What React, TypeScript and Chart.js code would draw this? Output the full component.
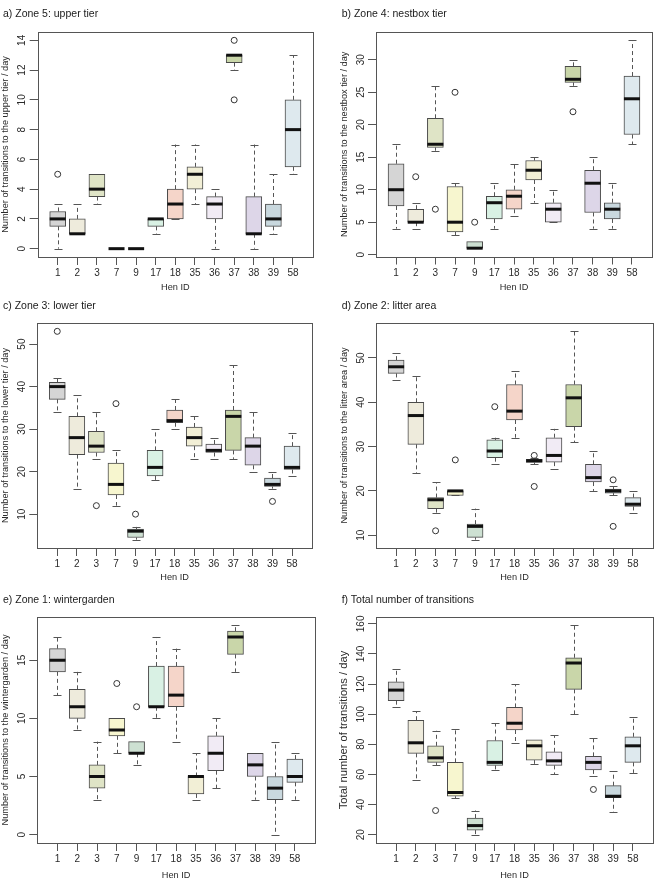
import React, { useEffect, useRef } from 'react';
import { Chart, registerables } from 'chart.js';

Chart.register(...registerables);
Chart.defaults.font.family = '"Liberation Sans", Arial, Helvetica, sans-serif';

// ---------- data ----------
const henIds = ['1', '2', '3', '7', '9', '17', '18', '35', '36', '37', '38', '39', '58'];
const boxColors = [
  '#d5d5d5', '#eeebdc', '#dfe4c6', '#f7f6cf', '#cde0d2', '#d9f1e4', '#f5d5c9',
  '#f2efd6', '#f1ebf5', '#c9d6a9', '#ddd6e8', '#c9d8de', '#dee9ee',
];

// each entry: [lower whisker, Q1, median, Q3, upper whisker]
const upperTierStats = [
  [0, 1.5, 2, 2.5, 3], [1, 1, 1, 2, 3], [3, 3.5, 4, 5, 5], [0, 0, 0, 0, 0], [0, 0, 0, 0, 0],
  [1, 1.5, 2, 2, 2], [2, 2, 3, 4, 7], [3, 4, 5, 5.5, 7], [0, 2, 3, 3.5, 4], [12, 12.5, 13, 13, 13],
  [0, 1, 1, 3.5, 7], [1, 1.5, 2, 3, 5], [5, 5.5, 8, 10, 13],
];
const upperTierOutliers = [[5], [], [], [], [], [], [], [], [], [14, 10], [], [], []];
const upperTierTicks = [0, 2, 4, 6, 8, 10, 12, 14];

const nestboxStats = [
  [4, 7.5, 10, 14, 17], [4, 5, 5, 7, 8], [16, 16.5, 17, 21, 26], [3, 3.5, 5, 10.5, 11], [1, 1, 1, 2, 2],
  [4, 5.5, 8, 9, 11], [6, 7, 9, 10, 14], [8, 11.5, 13, 14.5, 15], [5, 5, 7, 8, 10], [26, 26.5, 27, 29, 30],
  [4, 6.5, 11, 13, 15], [4, 5.5, 7, 8, 11], [17, 18.5, 24, 27.5, 33],
];
const nestboxOutliers = [[], [12], [7], [25], [5], [], [], [], [], [22], [], [], []];
const nestboxTicks = [0, 5, 10, 15, 20, 25, 30];

const lowerTierStats = [
  [34, 37, 40, 41, 42], [16, 24, 28, 33, 38], [23, 24.5, 26, 29.5, 34], [12, 14.5, 17, 22, 25], [4, 4.5, 6, 6.5, 7],
  [18, 19, 21, 25, 30], [30, 31.5, 32, 34.5, 37], [23, 26, 28, 30.5, 33], [23, 24.5, 25, 26.5, 28], [23, 25, 33, 34.5, 45],
  [20, 21.5, 26, 28, 34], [16, 16.5, 17, 18.5, 20], [19, 20.5, 21, 26, 29],
];
const lowerTierOutliers = [[53], [], [12], [36], [10], [], [], [], [], [], [], [13], []];
const lowerTierTicks = [10, 20, 30, 40, 50];

const litterStats = [
  [45, 46.5, 48, 49.5, 51], [24, 30.5, 37, 40, 46], [15, 16, 18, 18.5, 22], [19, 19, 20, 20, 20], [9, 9.5, 12, 12.5, 16],
  [26, 27.5, 29, 31.5, 32], [32, 36, 38, 44, 47], [26, 26.4, 26.8, 27.1, 27.5], [25, 26.5, 28, 32, 34], [31, 34.5, 41, 44, 56],
  [20, 22, 23, 26, 29], [19, 19.5, 20, 20.4, 21], [15, 16.5, 17, 18.5, 20],
];
const litterOutliers = [[], [], [11], [27], [], [39], [], [28, 21], [], [], [], [22.5, 12], []];
const litterTicks = [10, 20, 30, 40, 50];

const wintergardenStats = [
  [12, 14, 15, 16, 17], [9, 10, 11, 12.5, 14], [3, 4, 5, 6, 8], [7, 8.5, 9, 10, 10], [6, 7, 7, 8, 8],
  [10, 11, 11, 14.5, 17], [8, 11, 12, 14.5, 16], [3, 3.5, 5, 5, 7], [4, 5.5, 7, 8.5, 10], [14, 15.5, 17, 17.5, 18],
  [3, 5, 6, 7, 7], [0, 3, 4, 5, 8], [3, 4.5, 5, 6.5, 7],
];
const wintergardenOutliers = [[], [], [], [13], [11], [], [], [], [], [], [], [], []];
const wintergardenTicks = [0, 5, 10, 15];

const totalStats = [
  [105, 109, 116, 121.5, 130], [56, 74, 81, 96, 102], [66, 68, 71, 79, 89], [44, 45.5, 48, 68, 90], [20, 23, 26, 31, 36],
  [63, 66, 68, 82.5, 94], [81, 89.5, 94, 104.5, 120], [67, 69.5, 79, 83, 83], [60, 66, 69, 75, 86], [100, 116.5, 134, 137.5, 159],
  [59, 63, 68, 72, 84], [35, 44.5, 45.5, 52.5, 62], [61, 68, 79, 85, 98],
];
const totalOutliers = [[], [], [36], [], [], [], [], [], [], [], [50], [], []];
const totalTicks = [20, 40, 60, 80, 100, 120, 140, 160];

// ---------- panels ----------
type Panel = {
  title: string;
  yTitle: string;
  yTitleSize: number;
  stats: number[][];
  outliers: number[][];
  ticks: number[];
  left: number; top: number; height: number;
  titleX: number; titleY: number;
  L: number; R: number; T: number; B: number; henY: number;
};

const panels: Panel[] = [
  { title: 'a) Zone 5: upper tier', yTitle: 'Number of transitions to the upper tier / day', yTitleSize: 9.2, stats: upperTierStats, outliers: upperTierOutliers, ticks: upperTierTicks,
    left: 0, top: 0, height: 296, titleX: 3, titleY: 13, L: 37.7, R: 313, T: 32, B: 257, henY: 287 },
  { title: 'b) Zone 4: nestbox tier', yTitle: 'Number of transitions to the nestbox tier / day', yTitleSize: 9.2, stats: nestboxStats, outliers: nestboxOutliers, ticks: nestboxTicks,
    left: 330, top: 0, height: 296, titleX: 11.7, titleY: 13, L: 46, R: 322, T: 32, B: 256.5, henY: 287 },
  { title: 'c) Zone 3: lower tier', yTitle: 'Number of transitions to the lower tier / day', yTitleSize: 9.2, stats: lowerTierStats, outliers: lowerTierOutliers, ticks: lowerTierTicks,
    left: 0, top: 290, height: 296, titleX: 3, titleY: 15, L: 37.3, R: 312, T: 33, B: 258, henY: 287 },
  { title: 'd) Zone 2: litter area', yTitle: 'Number of transitions to the litter area / day', yTitleSize: 9.2, stats: litterStats, outliers: litterOutliers, ticks: litterTicks,
    left: 330, top: 290, height: 296, titleX: 11.7, titleY: 15, L: 46, R: 323, T: 33, B: 258, henY: 287 },
  { title: 'e) Zone 1: wintergarden', yTitle: 'Number of transitions to the wintergarden / day', yTitleSize: 9.2, stats: wintergardenStats, outliers: wintergardenOutliers, ticks: wintergardenTicks,
    left: 0, top: 580, height: 301, titleX: 3, titleY: 19, L: 37.3, R: 315, T: 37, B: 263, henY: 295.7 },
  { title: 'f) Total number of transitions', yTitle: 'Total number of transitions / day', yTitleSize: 11.2, stats: totalStats, outliers: totalOutliers, ticks: totalTicks,
    left: 330, top: 580, height: 301, titleX: 11.7, titleY: 19, L: 46, R: 323, T: 37, B: 263, henY: 295.7 },
];

const AXIS_COLOR = '#555';
const TEXT_COLOR = '#2a2a2a';

function makeBoxPlugin(stats: number[][]) {
  return {
    id: 'boxParts',
    beforeDatasetsDraw(chart: any) {
      const { ctx, scales } = chart;
      const xs = scales.x, ys = scales.y;
      const meta = chart.getDatasetMeta(0);
      ctx.save();
      ctx.strokeStyle = AXIS_COLOR;
      ctx.lineWidth = 1;
      stats.forEach((s, i) => {
        const bar = meta.data[i];
        const w = bar ? bar.width : 16;
        const x = Math.round(xs.getPixelForValue(i + 1)) + 0.5;
        const yLow = ys.getPixelForValue(s[0]);
        const yQ1 = ys.getPixelForValue(s[1]);
        const yQ3 = ys.getPixelForValue(s[3]);
        const yHigh = ys.getPixelForValue(s[4]);
        ctx.setLineDash([4, 3]);
        ctx.beginPath();
        ctx.moveTo(x, yQ3); ctx.lineTo(x, yHigh);
        ctx.moveTo(x, yQ1); ctx.lineTo(x, yLow);
        ctx.stroke();
        ctx.setLineDash([]);
        ctx.beginPath();
        const yh = Math.round(yHigh) + 0.5, yl = Math.round(yLow) + 0.5;
        ctx.moveTo(x - w / 4, yh); ctx.lineTo(x + w / 4, yh);
        ctx.moveTo(x - w / 4, yl); ctx.lineTo(x + w / 4, yl);
        ctx.stroke();
      });
      ctx.restore();
    },
    afterDatasetsDraw(chart: any) {
      const { ctx, scales } = chart;
      const xs = scales.x, ys = scales.y;
      const meta = chart.getDatasetMeta(0);
      ctx.save();
      ctx.strokeStyle = '#111';
      ctx.lineWidth = 3;
      stats.forEach((s, i) => {
        const bar = meta.data[i];
        const w = bar ? bar.width : 16;
        const x = xs.getPixelForValue(i + 1);
        const y = ys.getPixelForValue(s[2]);
        ctx.beginPath();
        ctx.moveTo(x - w / 2, y); ctx.lineTo(x + w / 2, y);
        ctx.stroke();
      });
      ctx.restore();
    },
    afterDraw(chart: any) {
      const { ctx, chartArea: ca } = chart;
      ctx.save();
      ctx.strokeStyle = AXIS_COLOR;
      ctx.lineWidth = 1;
      const l = Math.round(ca.left) + 0.5, t = Math.round(ca.top) + 0.5;
      const r = Math.round(ca.right) + 0.5, b = Math.round(ca.bottom) + 0.5;
      ctx.strokeRect(l, t, r - l, b - t);
      ctx.restore();
    },
  };
}

function BoxPanel({ p }: { p: Panel }) {
  const ref = useRef<HTMLCanvasElement>(null);
  useEffect(() => {
    if (!ref.current) return;
    const all = p.stats.flat().concat(p.outliers.flat());
    const lo = Math.min(...all), hi = Math.max(...all);
    const ext = (hi - lo) * 0.04;
    const n = henIds.length;
    const xExt = n * 0.04;
    const digits = Math.max(...p.ticks.map((t) => String(t).length));
    const tickFont = 10;
    const titleFont = 9.2;

    const chart = new Chart(ref.current, {
      type: 'bar',
      data: {
        datasets: [
          {
            type: 'bar',
            data: p.stats.map((s, i) => ({ x: i + 1, y: [s[1], s[3]] })) as any,
            backgroundColor: boxColors,
            borderColor: '#4a4a4a',
            borderWidth: 1,
            borderSkipped: false,
            barThickness: 16,
            grouped: false,
            order: 2,
          } as any,
          {
            type: 'scatter',
            data: p.outliers.flatMap((o, i) => o.map((v) => ({ x: i + 1, y: v }))),
            pointStyle: 'circle',
            pointRadius: 3,
            pointBorderWidth: 1,
            pointBackgroundColor: 'rgba(0,0,0,0)',
            pointBorderColor: '#333',
            order: 1,
          } as any,
        ],
      },
      options: {
        animation: false,
        responsive: false,
        events: [],
        layout: { autoPadding: false, padding: { top: p.T, right: 330 - p.R, left: 0, bottom: 0 } } as any,
        plugins: { legend: { display: false }, tooltip: { enabled: false }, title: { display: false } },
        scales: {
          x: {
            type: 'linear',
            min: 0.5 - xExt,
            max: n + 0.5 + xExt,
            offset: false,
            grid: { display: true, drawOnChartArea: false, drawTicks: true, tickLength: 8, color: AXIS_COLOR, offset: false },
            border: { display: false },
            afterBuildTicks: (s: any) => { s.ticks = henIds.map((_, i) => ({ value: i + 1 })); },
            afterFit: (s: any) => { s.height = p.height - p.B; },
            ticks: {
              autoSkip: false, maxRotation: 0, minRotation: 0, padding: 2.5,
              color: TEXT_COLOR, font: { size: tickFont },
              callback: (v: any) => henIds[Number(v) - 1] ?? '',
            },
            title: {
              display: true, text: 'Hen ID', color: TEXT_COLOR,
              font: { size: titleFont, lineHeight: 1 },
              padding: { top: 0, bottom: p.height - p.henY - titleFont / 2 },
            },
          } as any,
          y: {
            type: 'linear',
            min: lo - ext,
            max: hi + ext,
            grid: { display: true, drawOnChartArea: false, drawTicks: true, tickLength: 8, color: AXIS_COLOR },
            border: { display: false },
            afterBuildTicks: (s: any) => { s.ticks = p.ticks.map((v) => ({ value: v })); },
            afterFit: (s: any) => { s.width = p.L; },
            ticks: {
              minRotation: 90, maxRotation: 90, crossAlign: 'center',
              padding: 15 - 8 - digits * tickFont * 0.278,
              color: TEXT_COLOR, font: { size: tickFont },
            },
            title: {
              display: true, text: p.yTitle, color: TEXT_COLOR,
              font: { size: p.yTitleSize, lineHeight: 1 },
              padding: { top: p.L - 32 - p.yTitleSize / 2, bottom: 0 },
            },
          } as any,
        },
      },
      plugins: [makeBoxPlugin(p.stats)],
    });
    return () => chart.destroy();
  }, [p]);

  return (
    <>
      <canvas
        ref={ref}
        width={330}
        height={p.height}
        style={{ position: 'absolute', left: p.left, top: p.top, width: 330, height: p.height }}
      />
      <div
        style={{
          position: 'absolute', left: p.left + p.titleX, top: p.top + p.titleY - 7,
          fontFamily: '"Liberation Sans", Arial, Helvetica, sans-serif',
          fontSize: 10.5, lineHeight: '14px', color: '#1a1a1a', whiteSpace: 'nowrap',
        }}
      >
        {p.title}
      </div>
    </>
  );
}

export default function App() {
  return (
    <div style={{ position: 'absolute', left: 0, top: 0, width: 660, height: 881, background: '#fff', overflow: 'hidden' }}>
      {panels.map((p) => (
        <BoxPanel key={p.title} p={p} />
      ))}
    </div>
  );
}
